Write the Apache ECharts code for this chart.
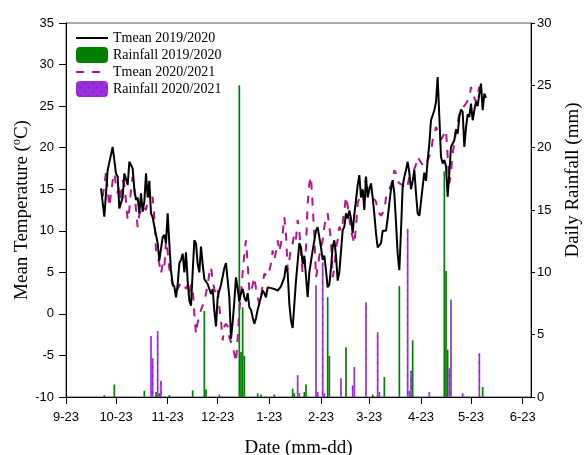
<!DOCTYPE html>
<html><head><meta charset="utf-8">
<script src="https://cdn.jsdelivr.net/npm/echarts@6/dist/echarts.min.js"></script>
<style>html,body{margin:0;padding:0;background:#fff}#c{width:587px;height:455px}</style>
</head><body><div id="c"></div>
<script>
// x = days after 23 September
const tickDays = [0, 30, 61, 91, 122, 153, 182, 213, 243, 274];
const tickLabels = ['9-23','10-23','11-23','12-23','1-23','2-23','3-23','4-23','5-23','6-23'];

const tmean1920 = [[21,15.1],[23,11.7],[25,17.3],[28,20.1],[30,16.9],[31,16.5],[32,12.7],[34,14],[35,16.9],[37,15.5],[38,18.3],[40,17.5],[41,15],[42,13.7],[43,14],[44,12.1],[45,14.5],[46,12.3],[47,13.5],[48,16.9],[49,14],[50,16],[51,12.1],[52,11.6],[53,11.5],[54,9.5],[55,8.5],[56,6.4],[57,6.2],[58,9.25],[59,9.5],[60,8.5],[61,12.1],[62,8.5],[63,5.2],[64,3.6],[65,3.3],[66,2.0],[67,3.5],[68,6.1],[69,6.5],[70,7.25],[71,5],[72,7.4],[73,4],[74,1.6],[75,1.0],[76,5],[77,8.85],[78,8.5],[79,6],[80,5],[81,8.1],[82,6],[83,4.2],[84,4],[85,3.6],[86,3],[87,2.4],[88,3],[89,0.4],[90,-1.5],[91,2],[92,2.8],[93,3.5],[94,4.5],[95,5.5],[96,6.1],[97,6.2],[98,2],[99,-3],[100,-1],[101,1.5],[102,4.4],[103,3],[104,1.5],[105,2.5],[106,3],[107,2],[108,1.5],[109,2.5],[110,0.8],[111,0.5],[112,-0.4],[113,-1.2],[114,-0.5],[115,0.5],[116,0.5],[118,2.8],[119,2.5],[120,2.0],[121,3.2],[123,3.1],[125,3],[127,2.8],[129,3.3],[130,3.2],[131,4.4],[132,5.8],[133,5.0],[134,1.2],[135,-0.8],[136,-1.7],[138,4.0],[140,8.5],[141,8.0],[142,6.0],[143,7.0],[145,2.0],[146,5],[148,7.65],[150,10.0],[151,10.45],[152,10.5],[153,8],[154,6.5],[155,7],[156,5.25],[157,3.2],[158,3.5],[159,5.5],[160,8.05],[161,8.85],[162,7],[163,4.0],[164,5],[166,10.05],[167,10.5],[168,12.1],[169,11.5],[170,12.45],[171,11.5],[172,9.7],[173,12],[174,13.7],[175,15.5],[176,16.7],[177,14],[178,15],[179,12.5],[180,16.5],[181,14],[182,15],[183,15.7],[184,14],[185,12],[186,9.7],[187,8],[188,7.85],[189,8.5],[190,10],[191,10],[192,10],[193,11.5],[194,13.3],[195,15],[196,16.1],[197,14.5],[198,11],[199,7.25],[200,5.25],[201,10],[202,15.3],[203,16.5],[204,17.3],[205,18.3],[206,17],[207,15],[208,16],[209,17.3],[210,14.5],[211,12.1],[212,11.8],[213,13.5],[214,15.3],[215,17],[216,16],[217,18.5],[218,20.5],[219,23.3],[220,23.3],[221,24.5],[222,25.5],[223,28.5],[224,23.7],[225,18.9],[226,18.1],[227,18.5],[228,17.8],[229,14.1],[230,17],[231,20.1],[232,20.5],[233,20.9],[234,22.2],[235,21.7],[236,23.7],[237,24.6],[238,24.3],[239,20.1],[240,22.4],[241,24.0],[242,23.7],[243,25.3],[244,23.3],[245,24.5],[246,25.5],[247,25.0],[248,26.5],[249,27.7],[250,24.5],[251,26.5],[252,26]];

const tmean2021StartDay = 22;
const tmean2021Values = [14.1,15.5,17.1,15,12.9,14.5,16,16.9,15.5,14.5,
15.5,13.5,16.1,15.5,13.5,11.3,12.5,15,16.5,15,
12.5,10.45,12,12.5,13,12.8,12.5,13.5,14.5,13.5,
14.1,11.5,7.65,7,6.05,4.85,6,5.5,8.85,7.5,
5.5,4.4,3.5,2.6,2.4,3,3.2,3.8,4,3.5,
3,3.5,2.5,3.5,3.2,0,-2.4,-1,-0.4,0.5,
0.4,1.5,2.5,3.5,4.85,5.65,4,3,2.4,3,
0.8,-0.8,-3.2,-1.5,-1.2,-1.5,-2.8,-3,-4,-4.8,
-5.8,-3,0.5,2.4,5,7.25,8.85,6,2.8,2.5,
3.5,4.4,3,2,1.2,2,3.5,4.85,5,4.5,
5.2,6.05,7.65,6.5,7.5,8.85,7.5,8.5,9.65,11.65,
9.5,5.25,6.5,8,8.5,9.65,9,11.3,10,7.25,
4.85,5.5,8,13.3,15.7,16.5,13,9.5,4.4,5.5,
7,8,8.85,10.5,11.5,12.1,12,8.85,4.4,5.5,
8,8.85,10.5,10,11,12.45,14.1,13,11.5,10,
9.25,8.45,10.5,13.3,14,14.5,14.1,15,16.5,15,
14,13.7,13.7,13.8,13.5,12.5,12.1,11.8,11.65,12.5,
14,14.5,15,15.5,16.1,17.3,16.9,16,15.7,15.8,
15.5,15,14.9,15.5,16.5,16.5,16.8,17,18,18.9,
18.9,18.2,18,17.7,17.7,18.5,18.5,19.5,20.9,21.5,
22.5,22,21.5,21,21.3,21.5,22.1,19,15.7,17,
19.3,20.5,22,23,24.1,24.5,24.8,25,25.3,25.5,
26,27.3,26.5,26,25.5,26.5,27.3,26.5,26.1];

const rain1920 = [[23,0.15],[29,1.0],[47,0.5],[54,0.4],[56,0.3],[62,0.15],[76,0.53],[83,6.9],[84,0.6],[104,25.0],[105,3.6],[106,7.2],[107,3.3],[115,0.3],[117,0.2],[125,0.2],[136,0.67],[137,0.3],[143,0.4],[144,1.0],[157,8.0],[158,3.3],[168,4.0],[184,0.2],[191,1.6],[200,8.9],[208,4.55],[227,18.1],[228,10.1],[229,3.8],[250,0.8]];
const rain2021 = [[51,4.9],[52,3.1],[55,5.3],[57,1.3],[92,0.2],[139,1.74],[140,0.3],[150,8.96],[151,0.4],[154,10.8],[155,0.3],[165,1.5],[172,0.94],[173,2.4],[180,7.6],[187,5.2],[188,0.4],[205,13.5],[206,0.5],[207,2.1],[218,0.4],[230,2.3],[231,7.8],[238,0.3],[248,3.5]];

const tmean2021 = tmean2021Values.map((v, i) => [tmean2021StartDay + i, v]);

const sans = 'Liberation Sans';
const serif = 'Liberation Serif';
const chart = echarts.init(document.getElementById('c'), null, {renderer: 'canvas'});
chart.setOption({
  animation: false,
  backgroundColor: '#fff',
  grid: {left: 66, right: 56, top: 23, bottom: 58, outerBoundsMode: 'none', containLabel: false,
    show: true, borderColor: '#555', borderWidth: 1, backgroundColor: 'transparent'},
  legend: {
    orient: 'vertical', left: 70, top: 26, itemWidth: 32, itemHeight: 16, itemGap: 2,
    textStyle: {fontFamily: serif, fontSize: 14, color: '#000'},
    data: [
      {name: 'Tmean 2019/2020', itemStyle: {opacity: 0}},
      {name: 'Rainfall 2019/2020'},
      {name: 'Tmean 2020/2021', itemStyle: {opacity: 0}},
      {name: 'Rainfall 2020/2021'}
    ]
  },
  xAxis: {
    type: 'value', min: 0, max: 279,
    axisLine: {show: true, onZero: false, lineStyle: {color: '#000', width: 1}},
    axisTick: {show: true, customValues: tickDays, length: 7, lineStyle: {color: '#000'}},
    axisLabel: {customValues: tickDays, formatter: v => tickLabels[tickDays.indexOf(v)], color: '#000', fontFamily: sans, fontSize: 13, margin: 14},
    splitLine: {show: false},
    name: 'Date (mm-dd)', nameLocation: 'middle', nameGap: 42, nameMoveOverlap: false,
    nameTextStyle: {fontFamily: serif, fontSize: 19, color: '#000'}
  },
  yAxis: [{
    type: 'value', min: -10, max: 35, interval: 5, position: 'left',
    axisLine: {show: true, onZero: false, lineStyle: {color: '#000', width: 1}},
    axisTick: {show: true, length: 7, lineStyle: {color: '#000'}},
    axisLabel: {color: '#000', fontFamily: sans, fontSize: 13, margin: 12},
    splitLine: {show: false},
    name: 'Mean Temperature ({sup|o}C)', nameLocation: 'middle', nameRotate: 90, nameGap: 33, nameMoveOverlap: false,
    nameTextStyle: {fontFamily: serif, fontSize: 19, color: '#000', lineHeight: 22,
      rich: {sup: {fontFamily: serif, fontSize: 12, color: '#000', verticalAlign: 'top', lineHeight: 12}}}
  }, {
    type: 'value', min: 0, max: 30, interval: 5, position: 'right',
    axisLine: {show: true, onZero: false, lineStyle: {color: '#000', width: 1}},
    axisTick: {show: true, length: 4, lineStyle: {color: '#000'}},
    axisLabel: {color: '#000', fontFamily: sans, fontSize: 13, margin: 6},
    splitLine: {show: false},
    name: 'Daily Rainfall (mm)', nameLocation: 'middle', nameRotate: 90, nameGap: 33, nameMoveOverlap: false,
    nameTextStyle: {fontFamily: serif, fontSize: 19, color: '#000', padding: [0, 0, 0, 60]}
  }],
  series: [
    {name: 'Rainfall 2019/2020', type: 'bar', yAxisIndex: 1, data: rain1920, barWidth: 1.7, barGap: '-100%',
      itemStyle: {color: '#008000'}, z: 2},
    {name: 'Rainfall 2020/2021', type: 'bar', yAxisIndex: 1, data: rain2021, barWidth: 1.7, barGap: '-100%',
      itemStyle: {color: '#9B30E0', decal: {symbol: 'rect', symbolSize: 0.7, dashArrayX: [3, 3], dashArrayY: [3, 3], rotation: Math.PI / 4, color: 'rgba(110,20,170,0.6)'}}, z: 2},
    {name: 'Tmean 2019/2020', type: 'line', yAxisIndex: 0, data: tmean1920, symbol: 'none', showSymbol: false,
      lineStyle: {color: '#000', width: 2}, itemStyle: {color: '#000'}, z: 4},
    {name: 'Tmean 2020/2021', type: 'line', yAxisIndex: 0, data: tmean2021, symbol: 'none', showSymbol: false,
      lineStyle: {color: '#B4148C', width: 2, type: [8, 8]}, itemStyle: {color: '#B4148C'}, z: 3}
  ]
});
</script>
</body></html>
